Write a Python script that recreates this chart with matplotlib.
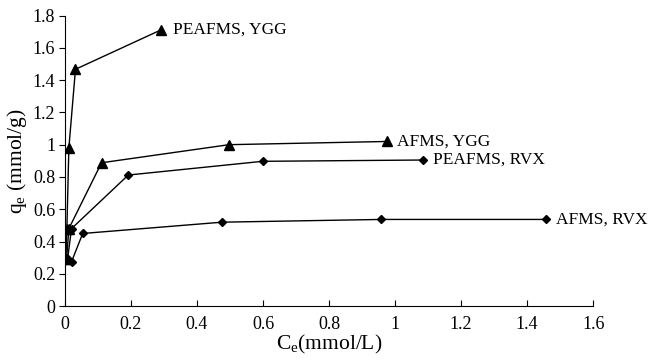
import matplotlib
matplotlib.use("Agg")
import matplotlib.pyplot as plt

plt.rcParams["font.family"] = ["Liberation Serif", "DejaVu Serif"]
plt.rcParams["mathtext.fontset"] = "custom"
plt.rcParams["mathtext.rm"] = "Liberation Serif"
plt.rcParams["mathtext.it"] = "Liberation Serif:italic"

# isothermes : Ce (mmol/L) -> qe (mmol/g)
peafms_ygg_x = [0.003, 0.006, 0.012, 0.032, 0.29]
peafms_ygg_y = [0.29, 0.48, 0.98, 1.467, 1.71]
afms_ygg_x = [0.005, 0.012, 0.111, 0.497, 0.977]
afms_ygg_y = [0.29, 0.48, 0.888, 1.00, 1.02]
peafms_rvx_x = [0.008, 0.02, 0.192, 0.599, 1.084]
peafms_rvx_y = [0.29, 0.48, 0.812, 0.897, 0.905]
afms_rvx_x = [0.0, 0.02, 0.054, 0.476, 0.958, 1.457]
afms_rvx_y = [0.29, 0.275, 0.45, 0.52, 0.537, 0.537]

series = [
    (peafms_ygg_x, peafms_ygg_y, "^", "PEAFMS, YGG", 0.037),
    (afms_ygg_x, afms_ygg_y, "^", "AFMS, YGG", 0.03),
    (peafms_rvx_x, peafms_rvx_y, "D", "PEAFMS, RVX", 0.03),
    (afms_rvx_x, afms_rvx_y, "D", "AFMS, RVX", 0.03),
]

fig = plt.figure(figsize=(6.49, 3.61), dpi=100)
ax = fig.add_axes([0.1, 0.152, 0.814, 0.805])
for xs, ys, mk, name, dx in series:
    ms = 6.5 if mk == "^" else 4.5
    ax.plot(xs, ys, color="black", lw=1.0, marker=mk, ms=ms)
    ax.text(xs[-1] + dx, ys[-1], name, fontsize=12.5, va="center", ha="left")

ax.set_xlim(0, 1.6)
ax.set_ylim(0, 1.8)
ax.set_xticks([0, 0.2, 0.4, 0.6, 0.8, 1.0, 1.2, 1.4, 1.6])
ax.set_xticklabels(["0", "0.2", "0.4", "0.6", "0.8", "1", "1.2", "1.4", "1.6"])
ax.set_yticks([0, 0.2, 0.4, 0.6, 0.8, 1.0, 1.2, 1.4, 1.6, 1.8])
ax.set_yticklabels(["0", "0.2", "0.4", "0.6", "0.8", "1", "1.2", "1.4", "1.6", "1.8"])
ax.tick_params(axis="x", direction="in", labelsize=13, length=4, pad=7)
ax.tick_params(axis="y", direction="out", labelsize=13, length=4, pad=3)
for s in ("top", "right"):
    ax.spines[s].set_visible(False)
ax.set_xlabel(r"C$_{\mathrm{e}}$(mmol/L)", fontsize=15.5, labelpad=0)
ax.set_ylabel(r"q$_{\mathrm{e}}$ (mmol/g)", fontsize=15.5, labelpad=3)

fig.savefig("out.png", dpi=100)
